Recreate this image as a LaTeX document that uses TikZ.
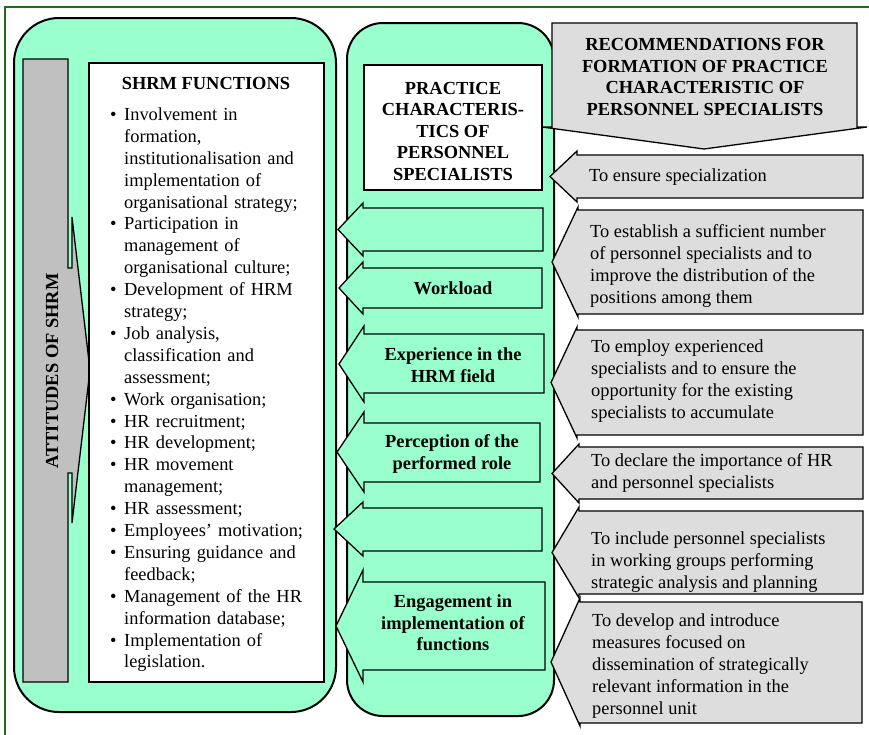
\documentclass[tikz,border=0pt]{standalone}
\usepackage{fontspec}
\setmainfont{Liberation Serif}
\definecolor{mint}{HTML}{99FFCC}
\definecolor{silvergray}{HTML}{C0C0C0}
\definecolor{lgray}{HTML}{DDDDDD}
\definecolor{framegreen}{HTML}{1E6B1E}
\newcommand\larrowshape[8]{\draw[#8] (#1,{(#4+#7)/2}) -- (#2,#4) -- (#2,#5) -- (#3,#5) -- (#3,#6) -- (#2,#6) -- (#2,#7) -- cycle;}
\newcommand\bul{\makebox[14pt][l]{\textbullet}}
\newcommand\cnt{\hspace*{14pt}}
\tikzset{
  box/.style={draw=black, line width=1.3pt},
  greenarrow/.style={box, fill=mint},
  grayarrow/.style={box, fill=lgray},
  roundpanel/.style={draw=black, line width=2pt, fill=mint},
  btext/.style={font=\fontsize{18.4}{21.5}\selectfont\bfseries, align=center, inner sep=0pt},
  rtext/.style={font=\fontsize{18.4}{21.8}\selectfont, align=left, anchor=west, inner sep=0pt},
}
\begin{document}
\begin{tikzpicture}[x=1pt,y=-1pt]
\useasboundingbox (0,0) rectangle (869,734);
\fill[white] (0,0) rectangle (869,734);
\draw[framegreen, line width=1.5pt] (5,7) rectangle (885,745);
% panels
\draw[roundpanel, rounded corners=45pt] (14,18) rectangle (336,712);
\draw[roundpanel, rounded corners=36pt] (347,23) rectangle (554,716);
% attitudes arrow
\draw[box, fill=silvergray] (23,59) -- (68,59) -- (68,268) -- (72,268) -- (72,217) -- (90,370) -- (72,523) -- (72,473) -- (68,473) -- (68,682) -- (23,682) -- cycle;
\node[btext, rotate=90] (attitudes) at (52,371) {ATTITUDES OF SHRM};
% SHRM functions
\draw[box, fill=white] (89,63) rectangle (324,682);
\node[btext] (shrmtitle) at (206,83) {SHRM FUNCTIONS};
\node[font=\fontsize{18.4}{21.9}\selectfont, text width=212pt, align=left, inner sep=0pt, anchor=north west] (shrmlist) at (110,107.5) {\bul Involvement in\\\cnt formation,\\\cnt institutionalisation and\\\cnt implementation of\\\cnt organisational strategy;\\\bul Participation in\\\cnt management of\\\cnt organisational culture;\\\bul Development of HRM\\\cnt strategy;\\\bul Job analysis,\\\cnt classification and\\\cnt assessment;\\\bul Work organisation;\\\bul HR recruitment;\\\bul HR development;\\\bul HR movement\\\cnt management;\\\bul HR assessment;\\\bul Employees’ motivation;\\\bul Ensuring guidance and\\\cnt feedback;\\\bul Management of the HR\\\cnt information database;\\\bul Implementation of\\\cnt legislation.};
% practice box
\node[box, fill=white, minimum width=178pt, minimum height=125pt, inner sep=0pt] (practice) at (453,127.5) {};
\node[btext] (practicetext) at (453,131) {PRACTICE\\CHARACTERIS-\\TICS OF\\PERSONNEL\\SPECIALISTS};
% recommendations callout
\draw[grayarrow] (552,127) -- (552,23) -- (857,23) -- (857,127) -- (867,127) -- (704,149) -- (542,127) -- cycle;
\node[btext] (recom) at (705,77) {RECOMMENDATIONS FOR\\FORMATION OF PRACTICE\\CHARACTERISTIC OF\\PERSONNEL SPECIALISTS};
% green arrows
\larrowshape{338}{363}{543}{203}{208}{251}{256}{greenarrow}
\larrowshape{339}{363}{542}{262}{268}{308}{314}{greenarrow}
\larrowshape{339}{364}{544}{326}{334}{393}{402}{greenarrow}
\larrowshape{337}{364}{540}{412}{423}{482}{492}{greenarrow}
\larrowshape{334}{363}{542}{502}{508}{551}{556}{greenarrow}
\larrowshape{336}{363}{545}{570}{582}{670}{682}{greenarrow}
\node[btext] (workload) at (453,288) {Workload};
\node[btext] (experience) at (453,365) {Experience in the\\HRM field};
\node[btext] (perception) at (452,454) {Perception of the\\performed role};
\node[btext] (engagement) at (453,623) {Engagement in\\implementation of\\functions};
% gray arrows
\larrowshape{550}{577}{863}{151}{155}{198}{202}{grayarrow}
\larrowshape{552}{578}{863}{207}{210}{314}{317}{grayarrow}
\larrowshape{551}{577}{863}{327}{330}{435}{438}{grayarrow}
\larrowshape{552}{579}{863}{444}{447}{499}{503}{grayarrow}
\larrowshape{552}{579}{863}{507}{511}{594}{598}{grayarrow}
\larrowshape{551}{580}{862}{598}{602}{723}{726}{grayarrow}
\node[rtext] (r1) at (589,177) {To ensure specialization};
\node[rtext] (r2) at (590,266) {To establish a sufficient number\\of personnel specialists and to\\improve the distribution of the\\positions among them};
\node[rtext] (r3) at (591,381) {To employ experienced\\specialists and to ensure the\\opportunity for the existing\\specialists to accumulate};
\node[rtext] (r4) at (591,473) {To declare the importance of HR\\and personnel specialists};
\node[rtext] (r5) at (591,562) {To include personnel specialists\\in working groups performing\\strategic analysis and planning};
\node[rtext] (r6) at (592,666) {To develop and introduce\\measures focused on\\dissemination of strategically\\relevant information in the\\personnel unit};
\end{tikzpicture}
\end{document}
